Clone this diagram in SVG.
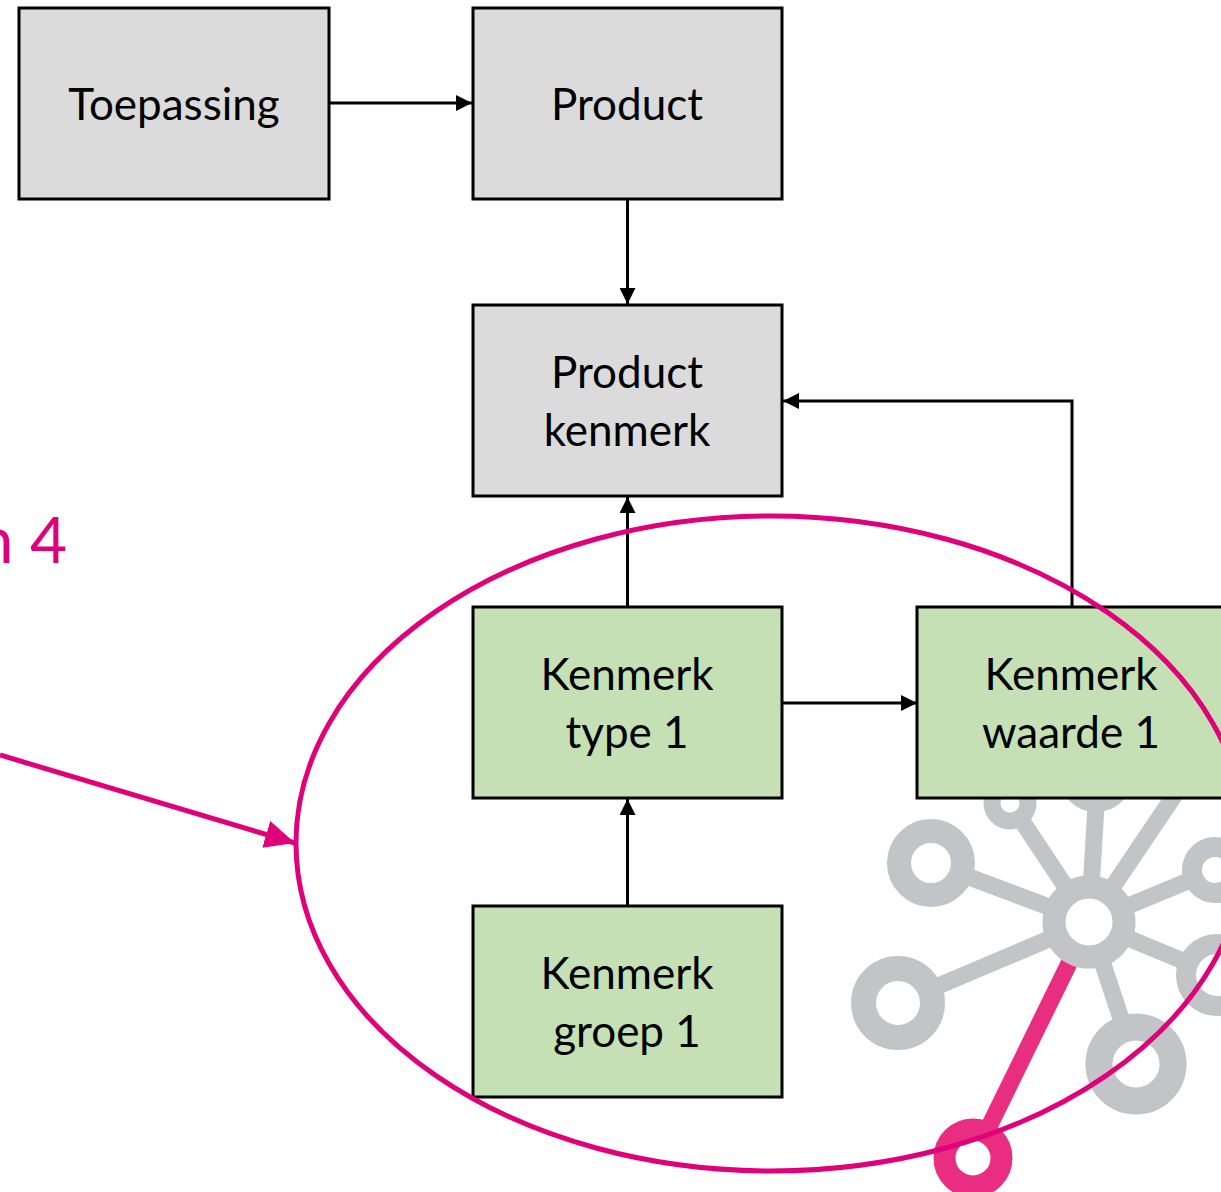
<svg xmlns="http://www.w3.org/2000/svg" width="1221" height="1192" viewBox="0 0 1221 1192">
<style>
.box{stroke:#000;stroke-width:3}
.gray{fill:#dbdbdb}
.green{fill:#c5e0b4}
.lbl{font-family:"Lato","Open Sans","Liberation Sans",sans-serif;font-size:44px;fill:#000;text-anchor:middle}
.conn{fill:none;stroke:#000;stroke-width:3}
.spoke{stroke:#c3c4c7;stroke-width:17;fill:none}
.ring{fill:#fff;stroke:#c3c4c7}
.pink{stroke:#e92e81;fill:#fff}
</style>
<defs>
<marker id="ah" viewBox="0 0 16 16" refX="16" refY="8" markerUnits="userSpaceOnUse" markerWidth="16" markerHeight="16" orient="auto"><path d="M0 0L16 8L0 16Z" fill="#000"/></marker>
<marker id="ahp" viewBox="0 0 30 28" refX="30" refY="14" markerUnits="userSpaceOnUse" markerWidth="30" markerHeight="28" orient="auto"><path d="M0 0L30 14L0 28Z" fill="#e0007a"/></marker>
</defs>
<g id="logo">
<path class="spoke" d="M1089 922L932 863M1089 922L898 1003M1089 922L1136 1064M1089 922L1215 870M1089 922L1217 975M1089 922L1010 803M1089 922L1097 790M1089 922L1178 790"/>
<path stroke="#e92e81" stroke-width="17" fill="none" d="M1078 945L980 1145"/>
<circle class="ring" cx="1089" cy="922" r="35" stroke-width="23"/>
<circle class="ring" cx="931" cy="863" r="32" stroke-width="24"/>
<circle class="ring" cx="898" cy="1003" r="34.500" stroke-width="25"/>
<circle class="ring" cx="1136" cy="1064" r="37" stroke-width="27"/>
<circle class="ring" cx="1215" cy="870" r="23" stroke-width="20"/>
<circle class="ring" cx="1217" cy="975" r="31" stroke-width="20"/>
<circle class="ring" cx="1010" cy="803" r="18" stroke-width="17"/>
<circle class="ring" cx="1096" cy="775" r="28" stroke-width="18"/>
<circle class="pink" cx="973" cy="1158" r="28.500" stroke-width="22"/>
</g>
<g id="connectors">
<path class="conn" marker-end="url(#ah)" d="M329 103H472"/>
<path class="conn" marker-end="url(#ah)" d="M627.500 199V304"/>
<path class="conn" marker-end="url(#ah)" d="M627.500 607V497"/>
<path class="conn" marker-end="url(#ah)" d="M1072 607V401H783"/>
<path class="conn" marker-end="url(#ah)" d="M782 703H917"/>
<path class="conn" marker-end="url(#ah)" d="M627.500 906V799"/>
</g>
<g id="toepassing"><rect class="box gray" x="19" y="8" width="310" height="191"/><text class="lbl" x="174" y="120">Toepassing</text></g>
<g id="product"><rect class="box gray" x="473" y="8" width="309" height="191"/><text class="lbl" x="627" y="120">Product</text></g>
<g id="product-kenmerk"><rect class="box gray" x="473" y="305" width="309" height="191"/><text class="lbl" x="627" y="388">Product</text><text class="lbl" x="627" y="446">kenmerk</text></g>
<g id="kenmerk-type"><rect class="box green" x="473" y="607" width="309" height="191"/><text class="lbl" x="627" y="690">Kenmerk</text><text class="lbl" x="627" y="748">type 1</text></g>
<g id="kenmerk-waarde"><rect class="box green" x="917" y="607" width="310" height="191"/><text class="lbl" x="1071" y="690">Kenmerk</text><text class="lbl" x="1071" y="748">waarde 1</text></g>
<g id="kenmerk-groep"><rect class="box green" x="473" y="906" width="309" height="191"/><text class="lbl" x="627" y="989">Kenmerk</text><text class="lbl" x="627" y="1047">groep 1</text></g>
<g id="highlight">
<ellipse cx="771" cy="843.500" rx="475" ry="327.500" fill="none" stroke="#e0007a" stroke-width="5"/>
<path d="M0 755L295 843" fill="none" stroke="#e0007a" stroke-width="5" marker-end="url(#ahp)"/>
<text x="67" y="563" font-family="Lato,'Open Sans','Liberation Sans',sans-serif" font-size="64" fill="#e0007a" text-anchor="end">n 4</text>
</g>
</svg>
